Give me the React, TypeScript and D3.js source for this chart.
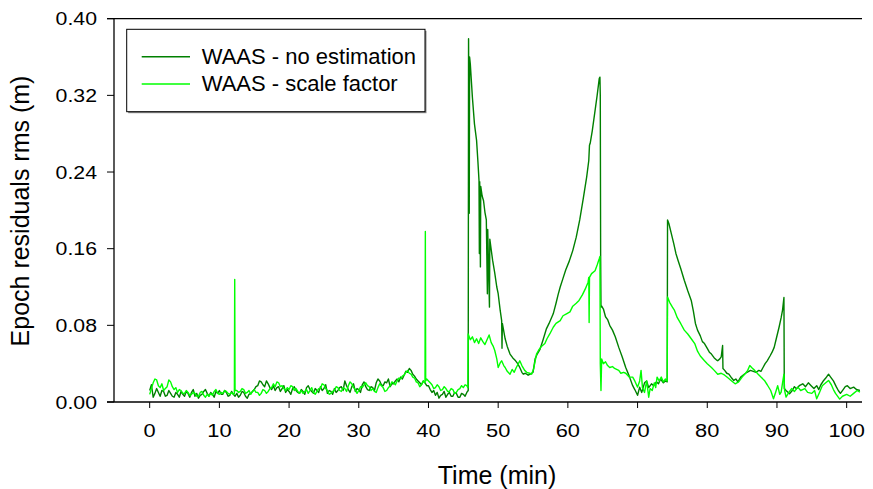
import React from "react";
import * as d3 from "d3";

// ---- data (minutes, rms metres) ----
const xTickValues = [0, 10, 20, 30, 40, 50, 60, 70, 80, 90, 100];
const yTickValues = [0, 0.08, 0.16, 0.24, 0.32, 0.4];
const seriesNames = ["WAAS - no estimation", "WAAS - scale factor"];

const noEstimation: [number, number][] = [
  [0, 0.012], [0.25, 0.018], [0.5, 0.005], [0.75, 0.009], [1, 0.014], [1.25, 0.01], [1.5, 0.006], [1.75, 0.012],
  [2, 0.011], [2.25, 0.006], [2.5, 0.007], [2.75, 0.012], [3, 0.009], [3.25, 0.006], [3.5, 0.005], [3.75, 0.01],
  [4, 0.008], [4.25, 0.005], [4.5, 0.011], [4.75, 0.008], [5, 0.006], [5.25, 0.011], [5.5, 0.009], [5.75, 0.005],
  [6, 0.01], [6.25, 0.013], [6.5, 0.006], [6.75, 0.009], [7, 0.004], [7.25, 0.007], [7.5, 0.008], [7.75, 0.011],
  [8, 0.013], [8.25, 0.009], [8.5, 0.006], [8.75, 0.01], [9, 0.008], [9.25, 0.005], [9.5, 0.011], [9.75, 0.009],
  [10, 0.012], [10.25, 0.008], [10.5, 0.008], [10.75, 0.012], [11, 0.01], [11.25, 0.006], [11.5, 0.007], [11.75, 0.011],
  [12, 0.008], [12.25, 0.006], [12.5, 0.009], [12.75, 0.005], [13, 0.007], [13.25, 0.011], [13.5, 0.01], [13.75, 0.006],
  [14, 0.004], [14.25, 0.008], [14.5, 0.009], [14.75, 0.011], [15, 0.013], [15.25, 0.016], [15.5, 0.017], [15.75, 0.022],
  [16, 0.021], [16.25, 0.018], [16.5, 0.016], [16.75, 0.022], [17, 0.019], [17.25, 0.015], [17.5, 0.013], [17.75, 0.017],
  [18, 0.012], [18.25, 0.015], [18.5, 0.016], [18.75, 0.011], [19, 0.014], [19.25, 0.017], [19.5, 0.01], [19.75, 0.013],
  [20, 0.011], [20.25, 0.008], [20.5, 0.014], [20.75, 0.016], [21, 0.012], [21.25, 0.01], [21.5, 0.009], [21.75, 0.013],
  [22, 0.011], [22.25, 0.008], [22.5, 0.015], [22.75, 0.017], [23, 0.013], [23.25, 0.011], [23.5, 0.009], [23.75, 0.014],
  [24, 0.012], [24.25, 0.01], [24.5, 0.016], [24.75, 0.012], [25, 0.014], [25.25, 0.018], [25.5, 0.009], [25.75, 0.012],
  [26, 0.011], [26.25, 0.008], [26.5, 0.014], [26.75, 0.01], [27, 0.012], [27.25, 0.015], [27.5, 0.016], [27.75, 0.012],
  [28, 0.022], [28.25, 0.017], [28.5, 0.013], [28.75, 0.01], [29, 0.016], [29.25, 0.019], [29.5, 0.011], [29.75, 0.014],
  [30, 0.013], [30.25, 0.01], [30.5, 0.018], [30.75, 0.021], [31, 0.016], [31.25, 0.013], [31.5, 0.012], [31.75, 0.016],
  [32, 0.015], [32.25, 0.012], [32.5, 0.02], [32.75, 0.024], [33, 0.022], [33.25, 0.018], [33.5, 0.017], [33.75, 0.021],
  [34, 0.02], [34.25, 0.024], [34.5, 0.016], [34.75, 0.019], [35, 0.019], [35.25, 0.022], [35.5, 0.024], [35.75, 0.021],
  [36, 0.026], [36.25, 0.024], [36.5, 0.028], [36.75, 0.032], [37, 0.031], [37.25, 0.035], [37.5, 0.033], [37.75, 0.029],
  [38, 0.027], [38.25, 0.024], [38.5, 0.022], [38.75, 0.02], [39, 0.018], [39.25, 0.022], [39.5, 0.02], [39.75, 0.017],
  [40, 0.017], [40.25, 0.013], [40.5, 0.01], [40.75, 0.012], [41, 0.007], [41.25, 0.01], [41.5, 0.004], [41.75, 0.007],
  [42, 0.008], [42.25, 0.011], [42.5, 0.005], [42.75, 0.008], [43, 0.01], [43.25, 0.006], [43.5, 0.006], [43.75, 0.01],
  [44, 0.009], [44.25, 0.005], [44.5, 0.005], [44.75, 0.009], [45, 0.008], [45.25, 0.006], [45.5, 0.01],
  [45.7, 0.012], [45.75, 0.379], [45.8, 0.3],
  [45.85, 0.197], [45.9, 0.36], [46.0, 0.353], [46.3, 0.318], [46.6, 0.29], [46.9, 0.273], [47.1, 0.25],
  [47.25, 0.231], [47.3, 0.155], [47.35, 0.23], [47.45, 0.141], [47.5, 0.225], [47.7, 0.215], [47.9, 0.21],
  [48.1, 0.198], [48.3, 0.19], [48.45, 0.113], [48.5, 0.18], [48.75, 0.099], [48.8, 0.17], [49.2, 0.148],
  [49.5, 0.135], [49.8, 0.12], [50.0, 0.113], [50.3, 0.095], [50.5, 0.085], [50.55, 0.056], [50.6, 0.082],
  [51.0, 0.066], [51.3, 0.058], [51.7, 0.05], [52.1, 0.046], [52.5, 0.043], [52.8, 0.04], [53.1, 0.036],
  [53.4, 0.031], [53.6, 0.029], [53.9, 0.03], [54.3, 0.028], [54.6, 0.029], [55.0, 0.031], [55.3, 0.045],
  [55.6, 0.05], [56.0, 0.055], [56.4, 0.064], [56.9, 0.076], [57.3, 0.082], [57.9, 0.092], [58.3, 0.103],
  [58.6, 0.112], [58.9, 0.12], [59.3, 0.129], [59.7, 0.138], [60.2, 0.147], [60.7, 0.158], [61.2, 0.172],
  [61.7, 0.19], [62.2, 0.212], [62.7, 0.235], [63.0, 0.252], [63.1, 0.268], [63.2, 0.27], [63.5, 0.283],
  [63.9, 0.304], [64.2, 0.32], [64.5, 0.3375], [64.6, 0.339], [64.65, 0.32], [64.7, 0.155], [64.75, 0.099],
  [64.85, 0.1], [65.1, 0.097], [65.4, 0.089], [65.7, 0.086], [66.0, 0.08], [66.4, 0.075], [66.8, 0.068],
  [67.3, 0.057], [67.8, 0.047], [68.3, 0.036], [68.8, 0.027], [69.3, 0.017], [69.6, 0.013], [70.0, 0.007],
  [70.3, 0.0155], [70.6, 0.01], [71.0, 0.02], [71.3, 0.022], [71.6, 0.015], [72.0, 0.019], [72.3, 0.017],
  [72.7, 0.021], [73.0, 0.019], [73.3, 0.024], [73.7, 0.02], [74.0, 0.022], [74.25, 0.021], [74.3, 0.19],
  [74.5, 0.186], [74.8, 0.177], [75.2, 0.165], [75.5, 0.155], [75.8, 0.148], [76.2, 0.139], [76.7, 0.127],
  [77.2, 0.116], [77.7, 0.106], [78.0, 0.095], [78.3, 0.082], [78.6, 0.075], [79.0, 0.069], [79.3, 0.063],
  [79.6, 0.061], [80.0, 0.056], [80.3, 0.052], [80.6, 0.05], [81.0, 0.046], [81.3, 0.044], [81.5, 0.043],
  [81.8, 0.045], [82.0, 0.047], [82.2, 0.059], [82.25, 0.035], [82.5, 0.033], [82.8, 0.03], [83.1, 0.029],
  [83.5, 0.025], [83.8, 0.0225], [84.1, 0.024], [84.4, 0.021], [84.8, 0.026], [85.3, 0.029], [85.7, 0.031],
  [86.2, 0.033], [86.6, 0.032], [87.0, 0.031], [87.4, 0.033], [87.7, 0.032], [88.0, 0.036], [88.3, 0.04],
  [88.6, 0.043], [89.0, 0.048], [89.3, 0.052], [89.6, 0.057], [89.9, 0.066], [90.3, 0.078], [90.6, 0.088],
  [90.8, 0.096], [91.0, 0.109], [91.05, 0.014], [91.3, 0.012], [91.8, 0.0086], [92.2, 0.012], [92.5, 0.016],
  [92.8, 0.0138], [93.2, 0.017], [93.7, 0.019], [94.1, 0.016], [94.5, 0.02], [94.9, 0.017], [95.3, 0.014],
  [95.7, 0.017], [96.0, 0.013], [96.3, 0.018], [96.7, 0.0225], [97.0, 0.025], [97.4, 0.029], [97.7, 0.026],
  [98.1, 0.022], [98.5, 0.016], [98.8, 0.012], [99.1, 0.009], [99.5, 0.013], [99.8, 0.016], [100.1, 0.017],
  [100.5, 0.014], [101.0, 0.0155], [101.4, 0.013], [101.9, 0.012],
];

const scaleFactor: [number, number][] = [
  [0, 0.008], [0.25, 0.014], [0.5, 0.02], [0.75, 0.024], [1, 0.023], [1.25, 0.017], [1.5, 0.015], [1.75, 0.019],
  [2, 0.012], [2.25, 0.014], [2.5, 0.016], [2.75, 0.023], [3, 0.021], [3.25, 0.016], [3.5, 0.013], [3.75, 0.015],
  [4, 0.01], [4.25, 0.013], [4.5, 0.012], [4.75, 0.009], [5, 0.009], [5.25, 0.012], [5.5, 0.01], [5.75, 0.007],
  [6, 0.008], [6.25, 0.01], [6.5, 0.009], [6.75, 0.006], [7, 0.006], [7.25, 0.01], [7.5, 0.011], [7.75, 0.007],
  [8, 0.005], [8.25, 0.008], [8.5, 0.006], [8.75, 0.009], [9, 0.007], [9.25, 0.011], [9.5, 0.013], [9.75, 0.009],
  [10, 0.008], [10.25, 0.01], [10.5, 0.009], [10.75, 0.012], [11, 0.011], [11.25, 0.009], [11.5, 0.008], [11.75, 0.01],
  [12, 0.008], [12.15, 0.009], [12.2, 0.128], [12.25, 0.012], [12.5, 0.012], [12.75, 0.01], [13, 0.011], [13.25, 0.014],
  [13.5, 0.013], [13.75, 0.009], [14, 0.01], [14.25, 0.012], [14.5, 0.008], [14.75, 0.011], [15, 0.013], [15.25, 0.01],
  [15.5, 0.01], [15.75, 0.007], [16, 0.009], [16.25, 0.013], [16.5, 0.012], [16.75, 0.009], [17, 0.011], [17.25, 0.014],
  [17.5, 0.015], [17.75, 0.019], [18, 0.016], [18.25, 0.021], [18.5, 0.02], [18.75, 0.016], [19, 0.017], [19.25, 0.014],
  [19.5, 0.012], [19.75, 0.015], [20, 0.013], [20.25, 0.017], [20.5, 0.016], [20.75, 0.012], [21, 0.014], [21.25, 0.011],
  [21.5, 0.009], [21.75, 0.012], [22, 0.009], [22.25, 0.011], [22.5, 0.013], [22.75, 0.009], [23, 0.012], [23.25, 0.015],
  [23.5, 0.01], [23.75, 0.008], [24, 0.011], [24.25, 0.014], [24.5, 0.014], [24.75, 0.019], [25, 0.018], [25.25, 0.014],
  [25.5, 0.012], [25.75, 0.008], [26, 0.009], [26.25, 0.011], [26.5, 0.012], [26.75, 0.016], [27, 0.015], [27.25, 0.012],
  [27.5, 0.011], [27.75, 0.015], [28, 0.014], [28.25, 0.011], [28.5, 0.017], [28.75, 0.021], [29, 0.019], [29.25, 0.015],
  [29.5, 0.013], [29.75, 0.009], [30, 0.012], [30.25, 0.016], [30.5, 0.015], [30.75, 0.018], [31, 0.02], [31.25, 0.017],
  [31.5, 0.016], [31.75, 0.012], [32, 0.014], [32.25, 0.011], [32.5, 0.01], [32.75, 0.015], [33, 0.019], [33.25, 0.017],
  [33.5, 0.015], [33.75, 0.011], [34, 0.012], [34.25, 0.015], [34.5, 0.017], [34.75, 0.021], [35, 0.02], [35.25, 0.018],
  [35.5, 0.022], [35.75, 0.025], [36, 0.024], [36.25, 0.027], [36.5, 0.028], [36.75, 0.031], [37, 0.033], [37.25, 0.03],
  [37.5, 0.029], [37.75, 0.026], [38, 0.025], [38.25, 0.021], [38.5, 0.02], [38.75, 0.016], [39, 0.018], [39.25, 0.022],
  [39.5, 0.02], [39.55, 0.178], [39.6, 0.022], [39.75, 0.024], [40, 0.022], [40.25, 0.02], [40.5, 0.018], [40.75, 0.014],
  [41, 0.015], [41.25, 0.018], [41.5, 0.016], [41.75, 0.012], [42, 0.013], [42.25, 0.016], [42.5, 0.014], [42.75, 0.011],
  [43, 0.011], [43.25, 0.014], [43.5, 0.013], [43.75, 0.009], [44, 0.01], [44.25, 0.013], [44.5, 0.014], [44.75, 0.017],
  [45, 0.015], [45.25, 0.018], [45.5, 0.017], [45.65, 0.015],
  [45.7, 0.071], [46.0, 0.065], [46.3, 0.068], [46.6, 0.062],
  [46.9, 0.066], [47.2, 0.061], [47.5, 0.067], [47.8, 0.063], [48.1, 0.06], [48.4, 0.065], [48.7, 0.07],
  [49.0, 0.062], [49.3, 0.058], [49.5, 0.054], [49.8, 0.045], [50.0, 0.036], [50.3, 0.041], [50.5, 0.043],
  [50.8, 0.038], [51.0, 0.036], [51.3, 0.032], [51.7, 0.029], [52.0, 0.034], [52.3, 0.031], [52.6, 0.036],
  [52.9, 0.04], [53.1, 0.043], [53.4, 0.038], [53.8, 0.033], [54.1, 0.031], [54.5, 0.03], [54.8, 0.029],
  [55.1, 0.035], [55.5, 0.05], [55.8, 0.054], [56.2, 0.058], [56.7, 0.061], [57.0, 0.066], [57.4, 0.071],
  [57.9, 0.078], [58.3, 0.082], [58.9, 0.085], [59.3, 0.09], [59.8, 0.092], [60.3, 0.094], [60.7, 0.1],
  [61.2, 0.103], [61.6, 0.106], [62.1, 0.112], [62.5, 0.118], [62.9, 0.125], [63.0, 0.13], [63.05, 0.083],
  [63.1, 0.13], [63.4, 0.134], [63.9, 0.137], [64.2, 0.143], [64.5, 0.1495], [64.6, 0.152], [64.65, 0.04],
  [64.75, 0.012], [64.85, 0.045], [65.1, 0.04], [65.4, 0.042], [65.7, 0.038], [66.0, 0.036], [66.4, 0.037],
  [66.7, 0.035], [67.0, 0.034], [67.3, 0.033], [67.6, 0.03], [68.0, 0.031], [68.3, 0.03], [68.8, 0.026],
  [69.3, 0.026], [69.6, 0.022], [70.0, 0.0155], [70.3, 0.022], [70.5, 0.033], [70.7, 0.015], [71.0, 0.01],
  [71.3, 0.022], [71.6, 0.005], [71.8, 0.014], [72.1, 0.012], [72.4, 0.02], [72.6, 0.015], [72.8, 0.026],
  [73.1, 0.022], [73.4, 0.026], [73.7, 0.021], [74.0, 0.024], [74.25, 0.022], [74.3, 0.1095], [74.6, 0.104],
  [75.0, 0.099], [75.3, 0.0956], [75.7, 0.088], [76.2, 0.0817], [76.7, 0.075], [77.2, 0.071], [77.7, 0.066],
  [78.2, 0.061], [78.6, 0.053], [79.0, 0.048], [79.6, 0.043], [80.0, 0.04], [80.6, 0.036], [81.0, 0.033],
  [81.5, 0.029], [82.0, 0.03], [82.5, 0.028], [83.0, 0.025], [83.5, 0.022], [84.0, 0.019], [84.5, 0.021],
  [85.0, 0.026], [85.5, 0.03], [85.8, 0.033], [86.1, 0.038], [86.4, 0.0357], [86.8, 0.033], [87.3, 0.029],
  [87.7, 0.026], [88.2, 0.0225], [88.6, 0.018], [89.1, 0.012], [89.5, 0.0033], [89.8, 0.01], [90.1, 0.017],
  [90.4, 0.008], [90.6, 0.0103], [90.8, 0.02], [91.0, 0.029], [91.1, 0.012], [91.3, 0.0052], [91.7, 0.01],
  [92.1, 0.014], [92.5, 0.011], [93.0, 0.0155], [93.4, 0.012], [94.0, 0.014], [94.4, 0.01], [95.0, 0.009],
  [95.4, 0.012], [95.7, 0.0033], [96.1, 0.01], [96.5, 0.017], [97.0, 0.02], [97.4, 0.0225], [97.8, 0.018],
  [98.1, 0.013], [98.4, 0.009], [99.0, 0.003], [99.4, 0.006], [100.0, 0.008], [100.5, 0.006], [101.0, 0.009],
  [101.5, 0.012], [101.9, 0.0103],
];

const DARK = "#008000";
const LIGHT = "#00ff00";
const FONT = "'Liberation Sans', Arial, sans-serif";

export default function App() {
  const W = 873, H = 489;
  const x = d3.scaleLinear().domain([-5.12, 102.2]).range([114, 862]);
  const y = d3.scaleLinear().domain([0, 0.4]).range([402, 18.7]);
  const line = d3.line<[number, number]>().x((d) => x(d[0])).y((d) => y(d[1]));
  const [x0, x1] = x.range();
  const [yb, yt] = y.range();

  return (
    <svg width={W} height={H} style={{ position: "absolute", left: 0, top: 0, background: "#fff" }}
      fontFamily={FONT}>
      <rect width={W} height={H} fill="#fff" />
      {/* series */}
      <path d={line(noEstimation) || ""} fill="none" stroke={DARK} strokeWidth={1.4} strokeLinejoin="round" />
      <path d={line(scaleFactor) || ""} fill="none" stroke={LIGHT} strokeWidth={1.4} strokeLinejoin="round" />

      {/* axes frame */}
      <line x1={x0} x2={x0} y1={yt} y2={yb} stroke="#000" strokeWidth={1.3} />
      <line x1={107} x2={x1} y1={yb} y2={yb} stroke="#000" strokeWidth={1.3} />
      <line x1={107} x2={x1} y1={yt} y2={yt} stroke="#000" strokeWidth={1.3} />

      {/* y ticks */}
      {yTickValues.map((v) => (
        <g key={"y" + v}>
          <line x1={107} x2={x0} y1={y(v)} y2={y(v)} stroke="#000" strokeWidth={1} />
          <g transform={`translate(97,${y(v) + 6.6}) scale(1.15,1)`}>
            <text textAnchor="end" fontSize={18.5} fill="#000">{v.toFixed(2)}</text>
          </g>
        </g>
      ))}
      {/* x ticks */}
      {xTickValues.map((v) => (
        <g key={"x" + v}>
          <line x1={x(v)} x2={x(v)} y1={yb} y2={yb + 6} stroke="#000" strokeWidth={1} />
          <g transform={`translate(${x(v)},437.3) scale(1.15,1)`}>
            <text textAnchor="middle" fontSize={19} fill="#000">{v}</text>
          </g>
        </g>
      ))}

      {/* axis titles */}
      <text x={497} y={484} textAnchor="middle" fontSize={25} fill="#000">Time (min)</text>
      <text transform="translate(29,211) rotate(-90)" textAnchor="middle" fontSize={25} fill="#000">
        Epoch residuals rms (m)
      </text>

      {/* legend */}
      <rect x={128.2} y={30.8} width={298.3} height={82.4} fill="#888" />
      <rect x={126.7} y={29.3} width={298.3} height={82.4} fill="#fff" stroke="#000" strokeWidth={1} />
      {seriesNames.map((name, i) => {
        const ly = 56.7 + i * 27.3;
        return (
          <g key={name}>
            <line x1={141.7} x2={190} y1={ly} y2={ly} stroke={i === 0 ? DARK : LIGHT} strokeWidth={1.5} />
            <text x={201.7} y={ly + 7.3} fontSize={22} fill="#000">{name}</text>
          </g>
        );
      })}
    </svg>
  );
}
